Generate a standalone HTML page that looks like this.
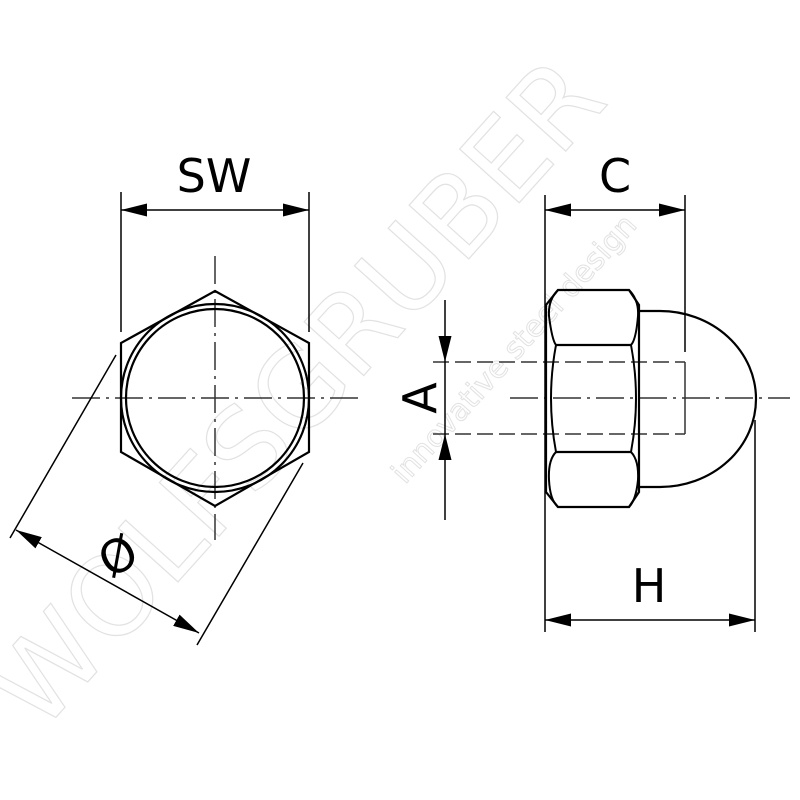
<!DOCTYPE html>
<html><head><meta charset="utf-8"><style>html,body{margin:0;padding:0;background:#fff}svg{display:block}</style></head>
<body>
<svg width="800" height="800" viewBox="0 0 800 800" xmlns="http://www.w3.org/2000/svg">
<defs>
<marker id="ar" viewBox="0 0 20 10" refX="20" refY="5" markerWidth="26" markerHeight="13" markerUnits="userSpaceOnUse" preserveAspectRatio="none" orient="auto-start-reverse">
<path d="M0,0 L20,5 L0,10 z" fill="#000"/>
</marker>
</defs>
<!-- watermark -->
<g font-family="'DejaVu Sans', sans-serif">
<text x="0" y="0" transform="translate(40,735) rotate(-48)" font-size="110" fill="none" stroke="#e2e2e2" stroke-width="1.2">WOLFSGRUBER</text>
<text x="0" y="0" transform="translate(405,485) rotate(-48)" font-size="30" fill="none" stroke="#e2e2e2" stroke-width="1">innovative steel design</text>
</g>
<g stroke="#000" fill="none" stroke-width="1.5">
<line x1="72" y1="398" x2="358" y2="398" stroke-dasharray="28,6,3,6" stroke="#333"/>
<line x1="215" y1="256" x2="215" y2="540" stroke-dasharray="28,6,3,6" stroke="#333"/>
<polygon points="215,291 309,343 309,452 215,506 121,452 121,343" stroke-width="2.2"/>
<circle cx="215" cy="398" r="94" stroke-width="2.2"/>
<circle cx="215" cy="398" r="89" stroke-width="2.2"/>
<line x1="121" y1="192" x2="121" y2="332"/>
<line x1="309" y1="192" x2="309" y2="332"/>
<line x1="121" y1="210" x2="309" y2="210" marker-start="url(#ar)" marker-end="url(#ar)"/>
<line x1="116" y1="355" x2="10" y2="538"/>
<line x1="303" y1="463" x2="197" y2="645"/>
<line x1="16" y1="530" x2="199" y2="633" marker-start="url(#ar)" marker-end="url(#ar)"/>
<line x1="510" y1="398" x2="790" y2="398" stroke-dasharray="28,6,3,6" stroke="#333"/>
<line x1="433" y1="362" x2="685" y2="362" stroke-dasharray="16,6" stroke="#333"/>
<line x1="433" y1="434" x2="685" y2="434" stroke-dasharray="16,6" stroke="#333"/>
<line x1="685" y1="362" x2="685" y2="434" stroke="#333"/>
<path d="M558,290 L629,290 L639,305 L639,492 L629,507 L558,507 L546,492 L546,305 Z" stroke-width="2.2"/>
<line x1="556" y1="345" x2="631" y2="345" stroke-width="2.2"/>
<line x1="556" y1="452" x2="631" y2="452" stroke-width="2.2"/>
<path d="M558,290 Q548,300 549,316 Q552,340 556,345 Q546,398 556,452 Q548,460 549,480 Q550,500 558,507" stroke-width="2"/>
<path d="M629,290 Q639,300 638,316 Q636,340 631,345 Q641,398 631,452 Q639,460 638,480 Q636,500 629,507" stroke-width="2"/>
<path d="M639,311 L660,311 A96,88 0 0 1 660,487 L639,487" stroke-width="2.2"/>
<line x1="545" y1="195" x2="545" y2="632"/>
<line x1="685" y1="195" x2="685" y2="352"/>
<line x1="545" y1="210" x2="685" y2="210" marker-start="url(#ar)" marker-end="url(#ar)"/>
<line x1="755" y1="420" x2="755" y2="632"/>
<line x1="545" y1="620" x2="755" y2="620" marker-start="url(#ar)" marker-end="url(#ar)"/>
<line x1="445" y1="300" x2="445" y2="362" marker-end="url(#ar)"/>
<line x1="445" y1="520" x2="445" y2="434" marker-end="url(#ar)"/>
<line x1="445" y1="362" x2="445" y2="434"/>
</g>
<g font-family="'DejaVu Sans', 'Liberation Sans', sans-serif" font-size="46" fill="#000" text-anchor="middle">
<text x="214" y="192">SW</text>
<text x="615" y="192">C</text>
<text x="649" y="602">H</text>
<text x="0" y="0" transform="translate(436,398) rotate(-90)">A</text>
<text x="0" y="0" transform="translate(126,570) rotate(-30)">Ø</text>
</g>
</svg>
</body></html>
